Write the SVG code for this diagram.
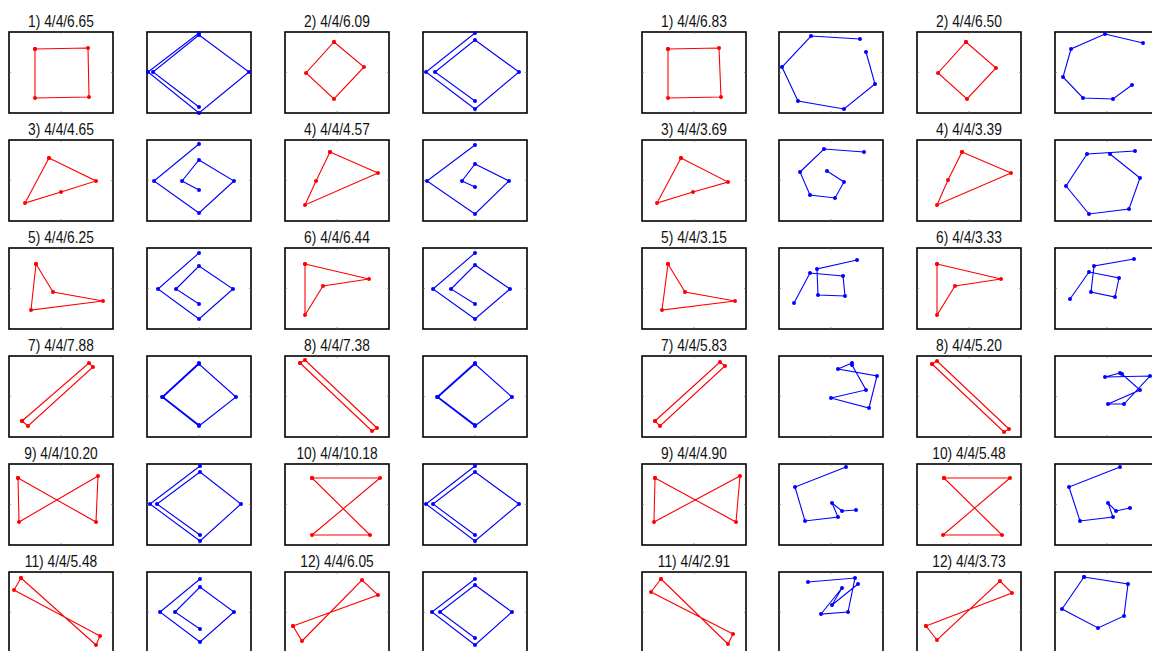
<svg xmlns="http://www.w3.org/2000/svg" xmlns:xlink="http://www.w3.org/1999/xlink" width="1152" height="651" viewBox="0 0 1152 651">
<style>
.t{font-family:"Liberation Sans",Arial,sans-serif;font-size:17px;fill:#111;text-anchor:middle}
.fr{fill:#fff;stroke:#000;stroke-width:1.6}
.tk{stroke:#666;stroke-width:0.6}
.r{fill:none;stroke:#f00;stroke-width:1.1;marker-start:url(#dr);marker-mid:url(#dr);marker-end:url(#dr)}
.b{fill:none;stroke:#00f;stroke-width:1.1;marker-start:url(#db);marker-mid:url(#db);marker-end:url(#db)}
</style>
<defs>
<marker id="dr" markerUnits="userSpaceOnUse" markerWidth="6" markerHeight="6" refX="3" refY="3" overflow="visible"><circle cx="3" cy="3" r="2" fill="#f00"/></marker>
<marker id="db" markerUnits="userSpaceOnUse" markerWidth="6" markerHeight="6" refX="3" refY="3" overflow="visible"><circle cx="3" cy="3" r="2" fill="#00f"/></marker>
<g id="ax"><rect class="fr" x="0" y="0" width="104" height="81"/><path class="tk" d="M52 0v2M52 81v-2M0 40.5h2M104 40.5h-2"/></g>
</defs>
<rect width="1152" height="651" fill="#fff"/>
<g id="frames">
<use xlink:href="#ax" x="9" y="32"/><use xlink:href="#ax" x="147" y="32"/><use xlink:href="#ax" x="285" y="32"/><use xlink:href="#ax" x="423" y="32"/><use xlink:href="#ax" x="642" y="32"/><use xlink:href="#ax" x="779" y="32"/><use xlink:href="#ax" x="917" y="32"/><use xlink:href="#ax" x="1055" y="32"/>
<use xlink:href="#ax" x="9" y="140"/><use xlink:href="#ax" x="147" y="140"/><use xlink:href="#ax" x="285" y="140"/><use xlink:href="#ax" x="423" y="140"/><use xlink:href="#ax" x="642" y="140"/><use xlink:href="#ax" x="779" y="140"/><use xlink:href="#ax" x="917" y="140"/><use xlink:href="#ax" x="1055" y="140"/>
<use xlink:href="#ax" x="9" y="248"/><use xlink:href="#ax" x="147" y="248"/><use xlink:href="#ax" x="285" y="248"/><use xlink:href="#ax" x="423" y="248"/><use xlink:href="#ax" x="642" y="248"/><use xlink:href="#ax" x="779" y="248"/><use xlink:href="#ax" x="917" y="248"/><use xlink:href="#ax" x="1055" y="248"/>
<use xlink:href="#ax" x="9" y="356"/><use xlink:href="#ax" x="147" y="356"/><use xlink:href="#ax" x="285" y="356"/><use xlink:href="#ax" x="423" y="356"/><use xlink:href="#ax" x="642" y="356"/><use xlink:href="#ax" x="779" y="356"/><use xlink:href="#ax" x="917" y="356"/><use xlink:href="#ax" x="1055" y="356"/>
<use xlink:href="#ax" x="9" y="464"/><use xlink:href="#ax" x="147" y="464"/><use xlink:href="#ax" x="285" y="464"/><use xlink:href="#ax" x="423" y="464"/><use xlink:href="#ax" x="642" y="464"/><use xlink:href="#ax" x="779" y="464"/><use xlink:href="#ax" x="917" y="464"/><use xlink:href="#ax" x="1055" y="464"/>
<use xlink:href="#ax" x="9" y="572"/><use xlink:href="#ax" x="147" y="572"/><use xlink:href="#ax" x="285" y="572"/><use xlink:href="#ax" x="423" y="572"/><use xlink:href="#ax" x="642" y="572"/><use xlink:href="#ax" x="779" y="572"/><use xlink:href="#ax" x="917" y="572"/><use xlink:href="#ax" x="1055" y="572"/>
</g>
<g id="titles">
<text class="t" transform="translate(61,27) scale(0.81,1)">1) 4/4/6.65</text>
<text class="t" transform="translate(337,27) scale(0.81,1)">2) 4/4/6.09</text>
<text class="t" transform="translate(694,27) scale(0.81,1)">1) 4/4/6.83</text>
<text class="t" transform="translate(969,27) scale(0.81,1)">2) 4/4/6.50</text>
<text class="t" transform="translate(61,135) scale(0.81,1)">3) 4/4/4.65</text>
<text class="t" transform="translate(337,135) scale(0.81,1)">4) 4/4/4.57</text>
<text class="t" transform="translate(694,135) scale(0.81,1)">3) 4/4/3.69</text>
<text class="t" transform="translate(969,135) scale(0.81,1)">4) 4/4/3.39</text>
<text class="t" transform="translate(61,243) scale(0.81,1)">5) 4/4/6.25</text>
<text class="t" transform="translate(337,243) scale(0.81,1)">6) 4/4/6.44</text>
<text class="t" transform="translate(694,243) scale(0.81,1)">5) 4/4/3.15</text>
<text class="t" transform="translate(969,243) scale(0.81,1)">6) 4/4/3.33</text>
<text class="t" transform="translate(61,351) scale(0.81,1)">7) 4/4/7.88</text>
<text class="t" transform="translate(337,351) scale(0.81,1)">8) 4/4/7.38</text>
<text class="t" transform="translate(694,351) scale(0.81,1)">7) 4/4/5.83</text>
<text class="t" transform="translate(969,351) scale(0.81,1)">8) 4/4/5.20</text>
<text class="t" transform="translate(61,459) scale(0.81,1)">9) 4/4/10.20</text>
<text class="t" transform="translate(337,459) scale(0.81,1)">10) 4/4/10.18</text>
<text class="t" transform="translate(694,459) scale(0.81,1)">9) 4/4/4.90</text>
<text class="t" transform="translate(969,459) scale(0.81,1)">10) 4/4/5.48</text>
<text class="t" transform="translate(61,567) scale(0.81,1)">11) 4/4/5.48</text>
<text class="t" transform="translate(337,567) scale(0.81,1)">12) 4/4/6.05</text>
<text class="t" transform="translate(694,567) scale(0.81,1)">11) 4/4/2.91</text>
<text class="t" transform="translate(969,567) scale(0.81,1)">12) 4/4/3.73</text>
</g>
<g id="row1">
<g id="p1r"><polygon class="r" points="35,49 88,48 89,97 35,98"/></g>
<g id="p1b"><polyline class="b" points="199,33 148,72 199,113 249,72 199,35 153,72 199,107"/></g>
<g id="p2r"><polygon class="r" points="334,42 364,67 334,99 306,73"/></g>
<g id="p2b"><polyline class="b" points="475,33 426,72 475,109 519,72 475,40 435,72 475,101"/></g>
<g id="q1r"><polygon class="r" points="668,49 719,48 721,97 668,98"/></g>
<g id="q1b"><polyline class="b" points="860,39 811,36 782,67 798,101 844,109 875,84 866,52"/></g>
<g id="q2r"><polygon class="r" points="966,42 996,68 967,99 938,73"/></g>
<g id="q2b"><polyline class="b" points="1143,43 1105,34 1071,49 1063,77 1083,98 1113,99 1132,85"/></g>
</g>
<g id="row2">
<g id="p3r"><polygon class="r" points="49,158 96,181 61,192 25,203"/></g>
<g id="p3b"><polyline class="b" points="199,144 154,181 199,213 234,181 199,160 182,181 199,190"/></g>
<g id="p4r"><polygon class="r" points="330,152 378,173 305,205 316,181"/></g>
<g id="p4b"><polyline class="b" points="475,145 427,181 475,214 509,181 475,164 462,181 475,187"/></g>
<g id="q3r"><polygon class="r" points="681,158 728,182 693,192 657,203"/></g>
<g id="q3b"><polyline class="b" points="864,152 824,149 800,172 810,195 835,198 844,182 827,171"/></g>
<g id="q4r"><polygon class="r" points="962,152 1011,173 937,205 948,180"/></g>
<g id="q4b"><polyline class="b" points="1135,151 1087,154 1066,186 1089,214 1129,209 1140,178 1110,154"/></g>
</g>
<g id="row3">
<g id="p5r"><polygon class="r" points="36,264 53,292 103,301 31,310"/></g>
<g id="p5b"><polyline class="b" points="199,253 158,289 199,319 233,289 199,266 176,289 199,304"/></g>
<g id="p6r"><polygon class="r" points="305,264 369,279 323,286 305,315"/></g>
<g id="p6b"><polyline class="b" points="475,253 433,289 475,319 510,289 475,265 451,289 475,304"/></g>
<g id="q5r"><polygon class="r" points="668,264 685,292 735,301 662,310"/></g>
<g id="q5b"><polyline class="b" points="857,260 817,269 818,295 845,296 843,276 810,273 794,303"/></g>
<g id="q6r"><polygon class="r" points="937,264 1001,279 955,286 937,315"/></g>
<g id="q6b"><polyline class="b" points="1134,259 1094,266 1091,292 1115,297 1119,278 1089,272 1070,299"/></g>
</g>
<g id="row4">
<g id="p7r"><polygon class="r" points="22,421 89,363 93,367 28,426"/></g>
<g id="p7b"><polyline class="b" points="199,363 162,397 199,426 236,397 199,364 163,397 199,425"/></g>
<g id="p8r"><polygon class="r" points="300,363 372,431 377,428 305,360"/></g>
<g id="p8b"><polyline class="b" points="475,363 437,397 475,426 512,397 475,364 438,397 475,425"/></g>
<g id="q7r"><polygon class="r" points="655,421 720,362 725,366 660,426"/></g>
<g id="q7b"><polyline class="b" points="852,363 838,369 877,376 869,408 831,398 866,390 852,365"/></g>
<g id="q8r"><polygon class="r" points="932,364 1004,432 1009,429 937,361"/></g>
<g id="q8b"><polyline class="b" points="1120,373 1105,377 1150,376 1124,404 1108,404 1140,390 1122,374"/></g>
</g>
<g id="row5">
<g id="p9r"><polygon class="r" points="18,478 96,522 98,476 19,522"/></g>
<g id="p9b"><polyline class="b" points="200,466 150,504 200,541 241,504 200,472 157,504 200,535"/></g>
<g id="p10r"><polygon class="r" points="312,478 380,478 312,535 370,535"/></g>
<g id="p10b"><polyline class="b" points="475,466 426,504 475,541 519,504 475,472 433,504 475,535"/></g>
<g id="q9r"><polygon class="r" points="655,478 736,522 740,476 654,522"/></g>
<g id="q9b"><polyline class="b" points="846,467 795,487 805,521 838,517 832,503 842,511 856,510"/></g>
<g id="q10r"><polygon class="r" points="944,478 1002,535 943,535 1010,478"/></g>
<g id="q10b"><polyline class="b" points="1120,467 1069,487 1080,521 1113,517 1108,503 1116,511 1130,508"/></g>
</g>
<g id="row6">
<g id="p11r"><polygon class="r" points="21,578 96,645 100,636 14,590"/></g>
<g id="p11b"><polyline class="b" points="200,579 160,612 200,642 234,612 200,587 175,612 200,629"/></g>
<g id="p12r"><polygon class="r" points="293,626 378,595 362,580 302,641"/></g>
<g id="p12b"><polyline class="b" points="475,579 432,612 475,645 512,612 475,585 440,612 475,638"/></g>
<g id="q11r"><polygon class="r" points="661,579 728,644 733,634 651,592"/></g>
<g id="q11b"><polyline class="b" points="808,582 855,578 848,612 821,614 842,588 832,605 858,584"/></g>
<g id="q12r"><polygon class="r" points="926,626 1012,593 1000,581 937,640"/></g>
<g id="q12b"><polyline class="b" points="1084,577 1128,584 1124,616 1098,628 1062,609 1084,577"/></g>
</g>
</svg>
